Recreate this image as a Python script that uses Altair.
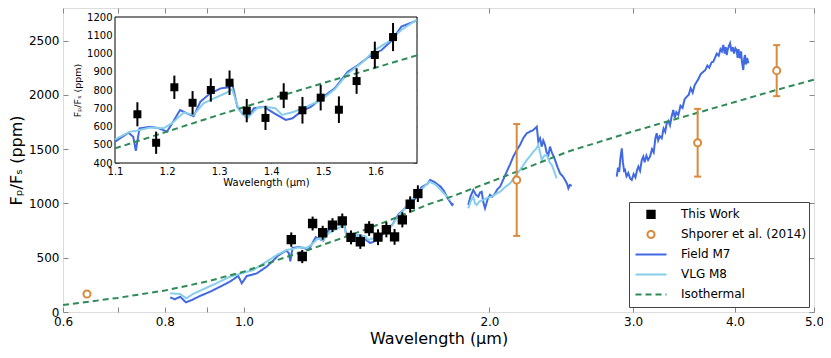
import altair as alt
import pandas as pd

FONT = "DejaVu Sans"
SERIES = ["This Work", "Shporer et al. (2014)", "Field M7", "VLG M8", "Isothermal"]
C_WORK = "#000000"
C_SHP = "#d98a3d"
C_FIELD = "#4169e1"
C_VLG = "#87ceeb"
C_ISO = "#2e8b57"

# ---------------- data ----------------
work_wl = [1.143, 1.179, 1.214, 1.249, 1.284, 1.320, 1.353, 1.389, 1.424, 1.460, 1.495, 1.530, 1.564, 1.599, 1.634]
work_fp = [667, 511, 815, 730, 800, 840, 687, 647, 769, 689, 758, 692, 849, 992, 1090]
work_err = [66, 61, 64, 64, 64, 67, 64, 66, 68, 73, 70, 73, 70, 73, 77]

shp_wl = [0.642, 2.16, 3.6, 4.5]
shp_fp = [166, 1216, 1559, 2223]
shp_err = [0, 515, 312, 235]

iso_wl = [0.6, 0.7, 0.8, 0.9, 1.0, 1.1, 1.2, 1.3, 1.4, 1.5, 1.6, 1.68, 1.8, 2.0, 2.5, 3.0, 3.5, 4.0, 4.5, 5.0]
iso_fp = [64, 130, 198, 280, 372, 480, 572, 664, 752, 838, 922, 990, 1065, 1195, 1479, 1663, 1809, 1934, 2046, 2140]

field_a_wl = [0.812, 0.823, 0.835, 0.849, 0.863, 0.883, 0.909, 0.935, 0.961, 0.984, 0.994, 1.008, 1.037, 1.066, 1.085,
              1.100, 1.126, 1.135, 1.140, 1.147, 1.168, 1.184, 1.200, 1.209, 1.225, 1.238, 1.251, 1.264, 1.283, 1.303,
              1.319, 1.325, 1.335, 1.344, 1.354, 1.367, 1.386, 1.406, 1.428, 1.441, 1.457, 1.476, 1.496, 1.522, 1.547,
              1.567, 1.586, 1.612, 1.631, 1.650, 1.679, 1.691, 1.710, 1.742, 1.756, 1.778, 1.800, 1.806]
field_a_fp = [135, 117, 141, 89, 110, 147, 187, 233, 279, 332, 264, 332, 356, 417, 470,
              517, 566, 544, 467, 590, 599, 590, 572, 614, 690, 672, 657, 736, 782, 809,
              815, 837, 708, 672, 645, 700, 708, 672, 636, 645, 681, 708, 754, 809, 900,
              937, 979, 1019, 1070, 1147, 1180, 1216, 1200, 1155, 1124, 1047, 985, 1000]
field_b_wl = [1.884, 1.895, 1.911, 1.925, 1.938, 1.947, 1.957, 1.966, 1.975, 1.990, 2.003, 2.015, 2.032, 2.045, 2.061,
              2.080, 2.100, 2.120, 2.139, 2.160, 2.180, 2.200, 2.222, 2.240, 2.264, 2.286, 2.296, 2.307, 2.318, 2.328,
              2.340, 2.350, 2.362, 2.373, 2.385, 2.395, 2.407, 2.425, 2.441, 2.460, 2.476, 2.490, 2.499, 2.510, 2.523]
field_b_fp = [986, 1060, 1124, 1080, 1062, 1100, 1108, 1010, 955, 1040, 1078, 1060, 1093, 1130, 1155,
              1220, 1293, 1360, 1431, 1490, 1538, 1600, 1646, 1660, 1676, 1707, 1569, 1600, 1523, 1580,
              1538, 1470, 1446, 1523, 1470, 1440, 1400, 1330, 1277, 1250, 1216, 1180, 1139, 1170, 1161]
field_c_wl = [2.865, 2.875, 2.885, 2.895, 2.906, 2.915, 2.925, 2.933, 2.945, 2.960, 2.975, 2.989, 3.005, 3.020, 3.035,
              3.045, 3.060, 3.075, 3.088, 3.100, 3.115, 3.130, 3.147, 3.165, 3.180, 3.195, 3.207, 3.220, 3.235, 3.253,
              3.270, 3.285, 3.299, 3.315, 3.330, 3.345, 3.361, 3.375, 3.390, 3.409, 3.430, 3.450, 3.470, 3.491, 3.510,
              3.530, 3.550, 3.570, 3.591, 3.610, 3.630, 3.658, 3.680, 3.700, 3.720, 3.745, 3.763, 3.780, 3.800, 3.820,
              3.840, 3.855, 3.870, 3.885, 3.897, 3.908, 3.920, 3.932, 3.945, 3.960, 3.975, 3.990, 4.005, 4.019, 4.030,
              4.040, 4.057, 4.070, 4.080, 4.095, 4.105, 4.115, 4.125, 4.140, 4.154]
field_c_fp = [1246, 1330, 1290, 1420, 1508, 1380, 1300, 1308, 1250, 1280, 1230, 1216, 1270, 1240, 1310,
              1339, 1300, 1400, 1431, 1380, 1440, 1400, 1431, 1500, 1470, 1600, 1646, 1580, 1620, 1600,
              1690, 1660, 1738, 1760, 1720, 1800, 1861, 1790, 1840, 1814, 1900, 1880, 1960, 1983, 2000,
              2060, 2020, 2090, 2121, 2150, 2190, 2213, 2230, 2270, 2250, 2300, 2305, 2340, 2380, 2360,
              2420, 2400, 2459, 2380, 2440, 2367, 2420, 2450, 2475, 2400, 2440, 2380, 2430, 2413, 2340,
              2420, 2337, 2400, 2300, 2229, 2330, 2367, 2280, 2340, 2291]

vlg_a_wl = [0.812, 0.835, 0.850, 0.866, 0.891, 0.925, 0.961, 0.994, 1.027, 1.066,
            1.100, 1.129, 1.142, 1.168, 1.193, 1.209, 1.232, 1.251, 1.270, 1.290, 1.312, 1.325, 1.338, 1.354, 1.373,
            1.389, 1.408, 1.421, 1.444, 1.470, 1.496, 1.522, 1.547, 1.573, 1.599, 1.625, 1.650, 1.679,
            1.690, 1.720, 1.750, 1.790]
vlg_a_fp = [172, 166, 126, 166, 209, 264, 325, 356, 387, 464,
            530, 572, 577, 595, 590, 617, 676, 663, 727, 754, 782, 804, 690, 645, 700,
            708, 700, 663, 681, 712, 745, 804, 891, 946, 1019, 1065, 1129, 1184,
            1200, 1170, 1110, 1030]
vlg_b_wl = [1.884, 1.897, 1.911, 1.920, 1.929, 1.945, 1.966, 1.985, 2.013, 2.040, 2.061, 2.090, 2.120, 2.150, 2.180,
            2.200, 2.222, 2.245, 2.264, 2.280, 2.296, 2.307, 2.318, 2.335, 2.351, 2.370, 2.385, 2.400, 2.418]
vlg_b_fp = [955, 1020, 1062, 1000, 986, 1020, 1032, 1050, 1062, 1090, 1108, 1150, 1185, 1250, 1308,
            1350, 1400, 1440, 1477, 1500, 1538, 1470, 1400, 1440, 1446, 1380, 1354, 1300, 1231]

main_x_ticks = [0.6, 0.7, 0.8, 0.9, 1.0, 2.0, 3.0, 4.0, 5.0]
main_y_ticks = [0, 500, 1000, 1500, 2000, 2500]
inset_x_ticks = [1.1, 1.2, 1.3, 1.4, 1.5, 1.6]
inset_y_ticks = [400, 500, 600, 700, 800, 900, 1000, 1100, 1200]

# ---------------- tables ----------------
def seg(wl, fp, series, name):
    return pd.DataFrame({"wl": wl, "fp": fp, "series": series, "seg": name})

field_df = pd.concat([seg(field_a_wl, field_a_fp, "Field M7", "FA"),
                      seg(field_b_wl, field_b_fp, "Field M7", "FB"),
                      seg(field_c_wl, field_c_fp, "Field M7", "FC")], ignore_index=True)
vlg_df = pd.concat([seg(vlg_a_wl, vlg_a_fp, "VLG M8", "VA"),
                    seg(vlg_b_wl, vlg_b_fp, "VLG M8", "VB")], ignore_index=True)
iso_df = seg(iso_wl, iso_fp, "Isothermal", "I")

work_df = pd.DataFrame({"wl": work_wl, "fp": work_fp, "err": work_err, "series": "This Work"})
work_df["lo"] = work_df["fp"] - work_df["err"]
work_df["hi"] = work_df["fp"] + work_df["err"]
shp_df = pd.DataFrame({"wl": shp_wl, "fp": shp_fp, "err": shp_err, "series": "Shporer et al. (2014)"})
shp_df["lo"] = shp_df["fp"] - shp_df["err"]
shp_df["hi"] = shp_df["fp"] + shp_df["err"]
pts_df = pd.concat([work_df, shp_df], ignore_index=True)
shp_e = shp_df[shp_df.err > 0]
caps = pd.concat([shp_e.assign(cap=shp_e.lo), shp_e.assign(cap=shp_e.hi)], ignore_index=True)


def inset_cut(df):
    return df[(df["wl"] >= 1.1) & (df["wl"] <= 1.68)]


W, H = 751, 304
TK = {"expr": "-5"}
TKI = {"expr": "-4"}

# ---------------- main axes ----------------
xs_main = alt.Scale(type="log", domain=[0.6, 5.0], nice=False)
ys_main = alt.Scale(domain=[0, 2800], nice=False, zero=False)
ax_mx = alt.Axis(values=main_x_ticks,
                 labelExpr="(datum.value == 0.7 || datum.value == 0.9) ? '' : format(datum.value, '.1f')",
                 title="Wavelength (μm)", titleFontSize=16, titleFontWeight="normal", labelFontSize=12,
                 labelFlush=False, labelOverlap=False, tickSize=TK, labelPadding=9, domain=False,
                 grid=False, titlePadding=3)
ax_my = alt.Axis(values=main_y_ticks, format="d", title="Fₚ/Fₛ (ppm)",
                 titleFontSize=16, titleFontWeight="normal", labelFontSize=12, labelFlush=False,
                 labelOverlap=False, tickSize=TK, labelPadding=9, domain=False, grid=False, titlePadding=4)
ax_mx_top = alt.Axis(orient="top", values=main_x_ticks, labels=False, title=None, tickSize=TK,
                     domain=False, grid=False)
ax_my_right = alt.Axis(orient="right", values=main_y_ticks, labels=False, title=None, tickSize=TK,
                       domain=False, grid=False)

x_m = alt.X("wl:Q", scale=xs_main, axis=None)
y_m = alt.Y("fp:Q", scale=ys_main, axis=None)

leg = alt.Legend(title=None, orient="none", legendX=566, legendY=194, fillColor="white",
                 strokeColor="#444444", padding=2.5, labelFontSize=12, labelFont=FONT,
                 labelColor="black", symbolStrokeWidth=2, clipHeight=19.85, rowPadding=0,
                 labelOffset=13.5, symbolOffset=3, cornerRadius=0)
stroke_enc = alt.Stroke("series:N", legend=leg,
                        scale=alt.Scale(domain=SERIES, range=[C_WORK, C_SHP, C_FIELD, C_VLG, C_ISO]))
fill_enc = alt.Fill("series:N", legend=leg,
                    scale=alt.Scale(domain=SERIES, range=[C_WORK, "white", "transparent", "transparent", "transparent"]))
shape_enc = alt.Shape("series:N", legend=leg,
                      scale=alt.Scale(domain=SERIES, range=["square", "circle", "stroke", "stroke", "stroke"]))
size_enc = alt.Size("series:N", legend=leg,
                    scale=alt.Scale(type="ordinal", domain=SERIES, range=[54, 50, 961, 961, 961]))
dash_enc = alt.StrokeDash("series:N", legend=leg,
                          scale=alt.Scale(domain=SERIES, range=[[1, 0], [1, 0], [1, 0], [1, 0], [6, 4]]))

m_field = alt.Chart(field_df).mark_line(strokeWidth=2).encode(
    x=alt.X("wl:Q", scale=xs_main, axis=ax_mx), y=alt.Y("fp:Q", scale=ys_main, axis=ax_my),
    stroke=stroke_enc, strokeDash=dash_enc, detail="seg:N")
m_vlg = alt.Chart(vlg_df).mark_line(strokeWidth=2).encode(
    x=x_m, y=y_m, stroke=stroke_enc, strokeDash=dash_enc, detail="seg:N")
m_iso = alt.Chart(iso_df).mark_line(strokeWidth=2).encode(
    x=alt.X("wl:Q", scale=xs_main, axis=ax_mx_top), y=alt.Y("fp:Q", scale=ys_main, axis=ax_my_right),
    stroke=stroke_enc, strokeDash=dash_enc, detail="seg:N")
m_err_w = alt.Chart(work_df).mark_rule(strokeWidth=2, color=C_WORK).encode(
    x=x_m, y=alt.Y("lo:Q", scale=ys_main, axis=None), y2="hi:Q")
m_err_s = alt.Chart(shp_e).mark_rule(strokeWidth=2, color=C_SHP).encode(
    x=x_m, y=alt.Y("lo:Q", scale=ys_main, axis=None), y2="hi:Q")
m_caps = alt.Chart(caps).mark_point(shape="stroke", size=49, strokeWidth=2, color=C_SHP, opacity=1).encode(
    x=x_m, y=alt.Y("cap:Q", scale=ys_main, axis=None))
m_pts = alt.Chart(pts_df).mark_point(filled=True, opacity=1, strokeWidth=2).encode(
    x=x_m, y=y_m, stroke=stroke_enc, fill=fill_enc, shape=shape_enc, size=size_enc)

main = alt.layer(m_field, m_vlg, m_iso, m_err_w, m_err_s, m_caps, m_pts).resolve_axis(
    x="independent", y="independent")

# ---------------- inset ----------------
IX0, IX1, IY0, IY1 = 52, 354, 9, 155
xs_in = alt.Scale(domain=[1.1, 1.68], range=[IX0, IX1], nice=False, zero=False)
ys_in = alt.Scale(domain=[400, 1200], range=[IY1, IY0], nice=False, zero=False)
ax_ix = alt.Axis(orient="bottom", offset=-(H - IY1), values=inset_x_ticks, format=".1f",
                 title="Wavelength (μm)", titleFontSize=10, titleFontWeight="normal", labelFontSize=10,
                 labelFlush=False, labelOverlap=False, tickSize=TKI, labelPadding=7, domain=False, grid=False,
                 titlePadding=1)
ax_iy = alt.Axis(orient="left", offset=-IX0, values=inset_y_ticks, format="d",
                 title="Fₚ/Fₛ (ppm)", titleFontSize=9.5, titleFontWeight="normal", labelFontSize=10,
                 labelFlush=False, labelOverlap=False, tickSize=TKI, labelPadding=7, domain=False, grid=False,
                 titlePadding=4)
ax_ix_top = alt.Axis(orient="top", offset=-IY0, values=inset_x_ticks, labels=False, title=None,
                     tickSize=TKI, domain=False, grid=False)
ax_iy_right = alt.Axis(orient="right", offset=IX1 - W, values=inset_y_ticks, labels=False, title=None,
                       tickSize=TKI, domain=False, grid=False)
x_i = alt.X("wl:Q", scale=xs_in, axis=None)
y_i = alt.Y("fp:Q", scale=ys_in, axis=None)

frame = alt.Chart(pd.DataFrame({"k": [0]})).mark_rect(fill="white", stroke="black", strokeWidth=1).encode(
    x=alt.value(IX0), x2=alt.value(IX1), y=alt.value(IY0), y2=alt.value(IY1))

i_field = alt.Chart(inset_cut(field_df)).mark_line(strokeWidth=2, color=C_FIELD).encode(
    x=alt.X("wl:Q", scale=xs_in, axis=ax_ix), y=alt.Y("fp:Q", scale=ys_in, axis=ax_iy), detail="seg:N")
i_vlg = alt.Chart(inset_cut(vlg_df)).mark_line(strokeWidth=2, color=C_VLG).encode(
    x=x_i, y=y_i, detail="seg:N")
i_iso = alt.Chart(inset_cut(iso_df)).mark_line(strokeWidth=2, color=C_ISO, strokeDash=[6, 4]).encode(
    x=alt.X("wl:Q", scale=xs_in, axis=ax_ix_top), y=alt.Y("fp:Q", scale=ys_in, axis=ax_iy_right))
i_err = alt.Chart(work_df).mark_rule(strokeWidth=2, color=C_WORK).encode(
    x=x_i, y=alt.Y("lo:Q", scale=ys_in, axis=None), y2="hi:Q")
i_pts = alt.Chart(work_df).mark_point(shape="square", filled=True, size=64, color=C_WORK, opacity=1).encode(
    x=x_i, y=y_i)

inset = alt.layer(i_field, i_vlg, i_iso, i_err, i_pts).resolve_axis(x="independent", y="independent")

chart = alt.layer(main, frame, inset).resolve_scale(x="independent", y="independent").properties(
    width=W, height=H, autosize=alt.AutoSizeParams(type="none"),
    padding={"left": 55, "top": 0, "right": 9, "bottom": 38}
).configure_view(stroke="black", strokeWidth=1).configure_axis(
    labelFont=FONT, titleFont=FONT, labelColor="black", titleColor="black", tickColor="black",
    titleFontWeight="normal", tickWidth=1
).configure(font=FONT)

chart.save("out.html", embed_options={"renderer": "svg", "actions": False})
